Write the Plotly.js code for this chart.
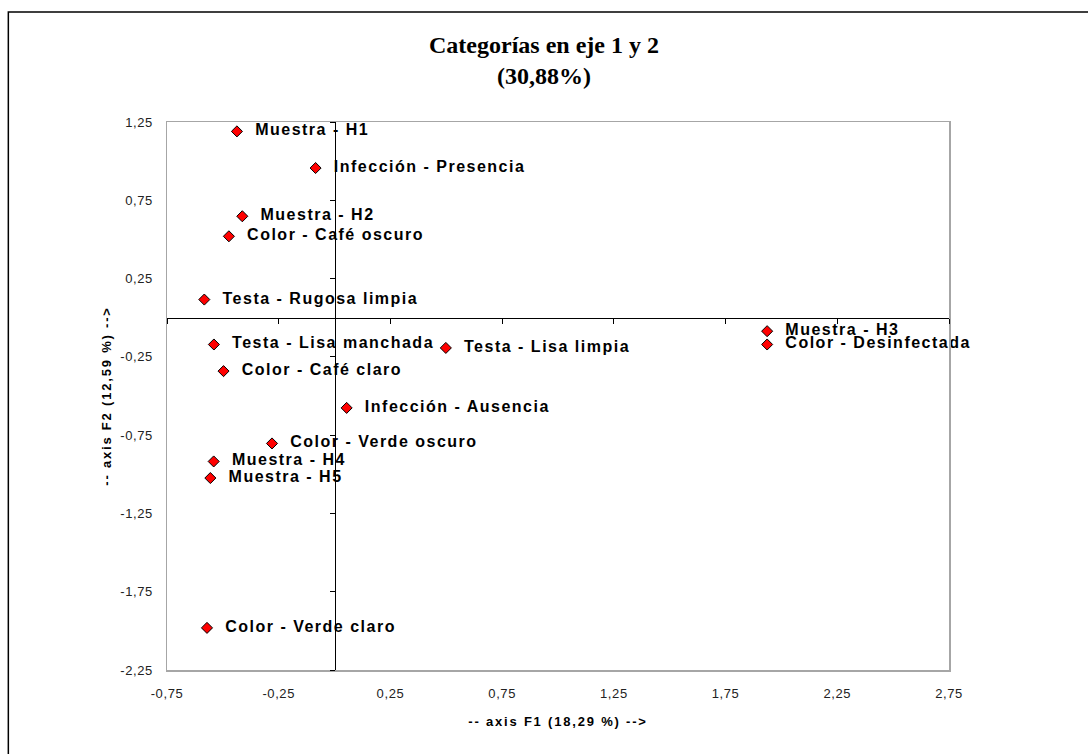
<!DOCTYPE html>
<html>
<head>
<meta charset="utf-8">
<script src="https://cdn.plot.ly/plotly-3.0.1.min.js"></script>
<style>
html,body{margin:0;padding:0;background:#fff;}
#chart{width:1088px;height:754px;}
#chart .textpoint text{letter-spacing:1.5px;}
#chart .xtitle, #chart .ytitle{letter-spacing:1.8px;}
#chart .xtick text, #chart .ytick text{letter-spacing:0.6px;}
</style>
</head>
<body>
<div id="chart"></div>
<script>
const labels = [
  "Muestra - H1", "Infección - Presencia", "Muestra - H2", "Color - Café oscuro",
  "Testa - Rugosa limpia", "Testa - Lisa manchada", "Testa - Lisa limpia",
  "Color - Café claro", "Infección - Ausencia", "Color - Verde oscuro",
  "Muestra - H4", "Muestra - H5", "Color - Verde claro", "Muestra - H3",
  "Color - Desinfectada"
];
const f1 = [-0.437, -0.085, -0.413, -0.473, -0.583, -0.540, 0.498, -0.497, 0.054, -0.280, -0.541, -0.556, -0.571, 1.936, 1.936];
const f2 = [1.190, 0.956, 0.648, 0.520, 0.116, -0.171, -0.193, -0.341, -0.576, -0.803, -0.918, -1.024, -1.981, -0.086, -0.171];

const xRange = [-0.75, 2.75];
const yRange = [-2.25, 1.25];
const xTicks = [-0.75, -0.25, 0.25, 0.75, 1.25, 1.75, 2.25, 2.75];
const xTickText = ["-0,75", "-0,25", "0,25", "0,75", "1,25", "1,75", "2,25", "2,75"];
const yTicks = [-2.25, -1.75, -1.25, -0.75, -0.25, 0.25, 0.75, 1.25];
const yTickText = ["-2,25", "-1,75", "-1,25", "-0,75", "-0,25", "0,25", "0,75", "1,25"];

const chartTitle = "Categorías en eje 1 y 2<br>(30,88%)";
const xTitle = "-- axis F1 (18,29 %) -->";
const yTitle = "-- axis F2 (12,59 %) -->";

const sans = "Liberation Sans, Arial, sans-serif";
const serif = "Liberation Serif, Times New Roman, serif";

const traces = [
  {
    type: "scatter", mode: "markers+text",
    x: f1, y: f2, text: labels.map(s => "  " + s),
    textposition: "middle right",
    textfont: {family: sans, size: 16, color: "#000", weight: "bold"},
    marker: {symbol: "diamond", size: 8.5, color: "#ff0000", line: {color: "#000", width: 1}},
    hoverinfo: "skip", showlegend: false, cliponaxis: false
  },
  {
    type: "scatter", mode: "markers", x: [], y: [], xaxis: "x2", yaxis: "y2",
    hoverinfo: "skip", showlegend: false
  }
];

const zeroYFrac = (0 - yRange[0]) / (yRange[1] - yRange[0]);
const zeroXFrac = (0 - xRange[0]) / (xRange[1] - xRange[0]);

const layout = {
  width: 1088, height: 754,
  margin: {l: 167, r: 139, t: 122, b: 84},
  paper_bgcolor: "#fff", plot_bgcolor: "#fff",
  showlegend: false,
  title: {
    text: chartTitle, xref: "container", x: 0.5, yref: "container", y: 0.93, yanchor: "top",
    font: {family: serif, size: 24, color: "#000", weight: "bold"}
  },
  xaxis: {
    range: xRange, autorange: false, tickmode: "array", tickvals: xTicks, ticktext: xTickText,
    ticks: "", showgrid: false, zeroline: false,
    showline: true, linecolor: "#a6a6a6", linewidth: 1.5, mirror: true,
    tickfont: {family: sans, size: 13, color: "#222"},
    ticklabelstandoff: 11,
    title: {text: xTitle, font: {family: sans, size: 13, color: "#000", weight: "bold"}, standoff: 17}
  },
  yaxis: {
    range: yRange, autorange: false, tickmode: "array", tickvals: yTicks, ticktext: yTickText,
    ticks: "", showgrid: false, zeroline: false,
    showline: true, linecolor: "#a6a6a6", linewidth: 1.5, mirror: true,
    tickfont: {family: sans, size: 13, color: "#222"},
    ticklabelstandoff: 10,
    title: {text: yTitle, font: {family: sans, size: 13, color: "#000", weight: "bold"}, standoff: 8}
  },
  xaxis2: {
    overlaying: "x", anchor: "free", position: zeroYFrac,
    range: xRange, autorange: false, tickmode: "array", tickvals: xTicks,
    ticks: "outside", ticklen: 5, tickcolor: "#000", tickwidth: 1,
    showticklabels: false, showgrid: false, zeroline: false,
    showline: true, linecolor: "#000", linewidth: 1
  },
  yaxis2: {
    overlaying: "y", anchor: "free", position: zeroXFrac, side: "left",
    range: yRange, autorange: false, tickmode: "array", tickvals: yTicks,
    ticks: "outside", ticklen: 5, tickcolor: "#000", tickwidth: 1,
    showticklabels: false, showgrid: false, zeroline: false,
    showline: true, linecolor: "#000", linewidth: 1
  },
  shapes: [{
    type: "rect", xref: "paper", yref: "paper",
    x0: -0.2029, x1: 1.4, y0: -0.3, y1: 1.2006,
    line: {color: "#000", width: 1.5}, fillcolor: "rgba(0,0,0,0)", layer: "below"
  }]
};

Plotly.newPlot("chart", traces, layout, {displayModeBar: false, staticPlot: true});
</script>
</body>
</html>
